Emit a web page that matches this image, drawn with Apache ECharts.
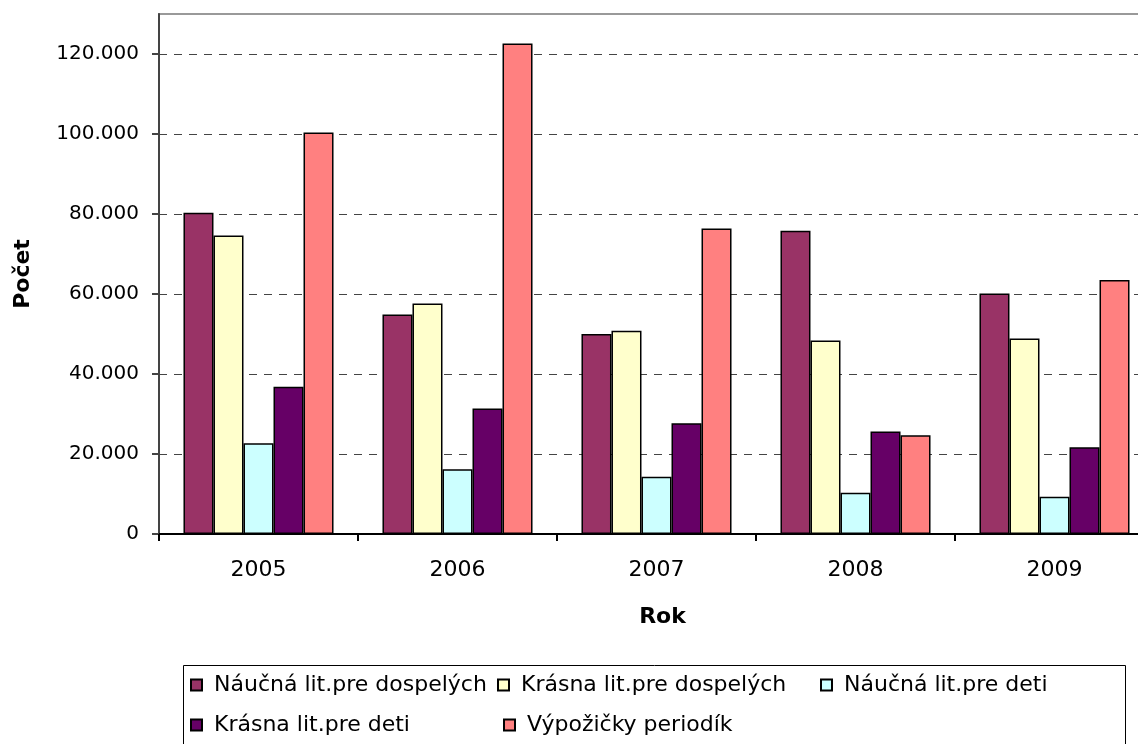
<!DOCTYPE html>
<html>
<head>
<meta charset="utf-8">
<script src="https://cdn.jsdelivr.net/npm/echarts@6/dist/echarts.min.js"></script>
<style>
  html, body { margin: 0; padding: 0; background: #fff; }
  #chart { width: 1138px; height: 744px; }
</style>
</head>
<body>
<div id="chart"></div>
<script>
// roky
const years = ["2005", "2006", "2007", "2008", "2009"];

// hodnoty odčítané z grafu
const naucnaDospeli = [80300, 54900, 50000, 75800, 60100];
const krasnaDospeli = [74600, 57600, 50800, 48400, 48900];
const naucnaDeti = [22700, 16200, 14300, 10300, 9300];
const krasnaDeti = [36800, 31400, 27700, 25600, 21700];
const periodika = [100400, 122600, 76400, 24700, 63500];

const seriesNames = [
  "Náučná lit.pre dospelých",
  "Krásna lit.pre dospelých",
  "Náučná lit.pre deti",
  "Krásna lit.pre deti",
  "Výpožičky periodík",
];
const seriesData = [naucnaDospeli, krasnaDospeli, naucnaDeti, krasnaDeti, periodika];
const colors = ["#993366", "#FFFFCC", "#CCFFFF", "#660066", "#FF8080"];

const font = "DejaVu Sans";

const chart = echarts.init(document.getElementById("chart"));

// legenda rozložená ako v Exceli (stĺpce)
const legendPos = [
  { left: 190, top: 674 },
  { left: 497, top: 674 },
  { left: 820, top: 674 },
  { left: 190, top: 714 },
  { left: 503, top: 714 },
];

const option = {
  backgroundColor: "#fff",
  animation: false,
  color: colors,
  grid: {
    show: true,
    left: 159,
    top: 14,
    height: 520,
    width: 995,
    outerBoundsMode: "none",
    borderColor: "#999",
    borderWidth: 2,
    containLabel: false,
  },
  graphic: [
    {
      type: "rect",
      left: 181,
      top: 663,
      shape: { width: 942, height: 100 },
      style: { fill: "none", stroke: "#000", lineWidth: 1 },
      z: 0,
    },
  ],
  legend: seriesNames.map((name, i) => ({
    data: [name],
    left: legendPos[i].left,
    top: legendPos[i].top,
    padding: 0,
    itemWidth: 11,
    itemHeight: 11,
    icon: "rect",
    formatter: function (n) { return " " + n; },
    textStyle: {
      fontFamily: font,
      fontSize: 22,
      color: "#000",
      lineHeight: 22,
    },
  })),
  xAxis: {
    type: "category",
    data: years,
    name: "Rok",
    nameLocation: "middle",
    nameGap: 72,
    nameTextStyle: {
      fontFamily: font, fontSize: 22, fontWeight: "bold", color: "#000",
      padding: [0, 0, 0, 12],
    },
    axisLine: { lineStyle: { color: "#000", width: 2 } },
    axisTick: { show: true, length: 7, lineStyle: { color: "#000", width: 2 } },
    axisLabel: { fontFamily: font, fontSize: 22, color: "#000", margin: 25 },
  },
  yAxis: {
    type: "value",
    min: 0,
    max: 130000,
    interval: 20000,
    name: "Počet",
    nameLocation: "middle",
    nameRotate: 90,
    nameGap: 125,
    nameTextStyle: { fontFamily: font, fontSize: 22, fontWeight: "bold", color: "#000" },
    axisLine: { show: true, lineStyle: { color: "#444", width: 2 } },
    axisTick: { show: true, length: 7, lineStyle: { color: "#444", width: 2 } },
    axisLabel: {
      fontFamily: font,
      fontSize: 20,
      color: "#000",
      margin: 20,
      showMaxLabel: false,
      formatter: function (v) {
        return String(v).replace(/\B(?=(\d{3})+(?!\d))/g, ".");
      },
    },
    splitLine: {
      show: true,
      showMaxLine: false,
      lineStyle: { color: "#444", width: 1, type: [8, 7] },
    },
  },
  series: seriesNames.map((name, i) => ({
    name: name,
    type: "bar",
    data: seriesData[i],
    barGap: "0%",
    barCategoryGap: "24.6%",
    itemStyle: { color: colors[i], borderColor: "#000", borderWidth: 1.5 },
  })),
};

chart.setOption(option);
</script>
</body>
</html>
